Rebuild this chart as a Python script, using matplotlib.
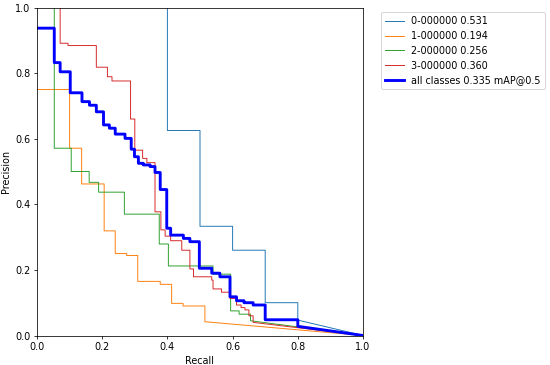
import matplotlib
matplotlib.use("Agg")
import matplotlib.pyplot as plt

# step curves: precision level prec[i] holds from recall[i] to recall[i+1],
# after the last recall value the curve runs straight to (1, 0)
c0_recall = [0.0, 0.4, 0.5, 0.6, 0.7, 0.8]
c0_prec = [1.0, 0.625, 0.333, 0.26, 0.1, 0.047]

c1_recall = [0.0, 0.1, 0.137, 0.206, 0.24, 0.275, 0.309, 0.378, 0.413, 0.448, 0.515]
c1_prec = [0.75, 0.571, 0.462, 0.319, 0.25, 0.244, 0.165, 0.156, 0.098, 0.09, 0.042]

c2_recall = [0.0, 0.053, 0.105, 0.16, 0.189, 0.268, 0.375, 0.403, 0.54, 0.594, 0.62, 0.655]
c2_prec = [1.0, 0.571, 0.5, 0.467, 0.437, 0.37, 0.279, 0.212, 0.187, 0.075, 0.065, 0.045]

c3_recall = [0.0, 0.071, 0.095, 0.182, 0.216, 0.23, 0.287, 0.3, 0.324, 0.337, 0.362,
             0.38, 0.393, 0.41, 0.444, 0.469, 0.48, 0.536, 0.54, 0.566, 0.592, 0.612,
             0.626, 0.638, 0.65, 0.663]
c3_prec = [1.0, 0.891, 0.884, 0.818, 0.789, 0.776, 0.66, 0.565, 0.54, 0.527, 0.377,
           0.322, 0.303, 0.289, 0.26, 0.203, 0.179, 0.169, 0.142, 0.132, 0.113, 0.093,
           0.085, 0.078, 0.06, 0.04]

all_recall = [0.0, 0.053, 0.071, 0.102, 0.138, 0.161, 0.182, 0.204, 0.222, 0.24, 0.27,
              0.289, 0.299, 0.311, 0.326, 0.347, 0.362, 0.378, 0.398, 0.41, 0.449, 0.469,
              0.498, 0.536, 0.561, 0.592, 0.612, 0.635, 0.663, 0.7, 0.8]
all_prec = [0.937, 0.832, 0.804, 0.74, 0.713, 0.702, 0.682, 0.642, 0.632, 0.614, 0.601,
            0.568, 0.545, 0.525, 0.52, 0.515, 0.497, 0.445, 0.327, 0.306, 0.296, 0.286,
            0.205, 0.19, 0.179, 0.118, 0.106, 0.1, 0.093, 0.048, 0.028]

class_names = ["0-000000", "1-000000", "2-000000", "3-000000"]
class_ap = [0.531, 0.194, 0.256, 0.360]
map50 = 0.335


def step_xy(recall, prec):
    xs, ys = [recall[0]], [prec[0]]
    for r, p_prev, p in zip(recall[1:], prec[:-1], prec[1:]):
        xs += [r, r]
        ys += [p_prev, p]
    xs.append(1.0)
    ys.append(0.0)
    return xs, ys


DPI = 69
fig = plt.figure(figsize=(550 / DPI, 365 / DPI), dpi=DPI)
ax = fig.add_axes([37 / 550, (365 - 335.5) / 365, 326 / 550, 328 / 365])

curves = [(c0_recall, c0_prec), (c1_recall, c1_prec), (c2_recall, c2_prec), (c3_recall, c3_prec)]
for (rec, prec), name, ap in zip(curves, class_names, class_ap):
    xs, ys = step_xy(rec, prec)
    ax.plot(xs, ys, linewidth=1, label=f"{name} {ap:.3f}")

xs, ys = step_xy(all_recall, all_prec)
ax.plot(xs, ys, linewidth=3, color="blue", label=f"all classes {map50:.3f} mAP@0.5")

ax.set_xlabel("Recall")
ax.set_ylabel("Precision")
ax.set_xlim(0, 1)
ax.set_ylim(0, 1)
ax.legend(bbox_to_anchor=(1.04, 1), loc="upper left")

fig.savefig("out.png", dpi=DPI)
